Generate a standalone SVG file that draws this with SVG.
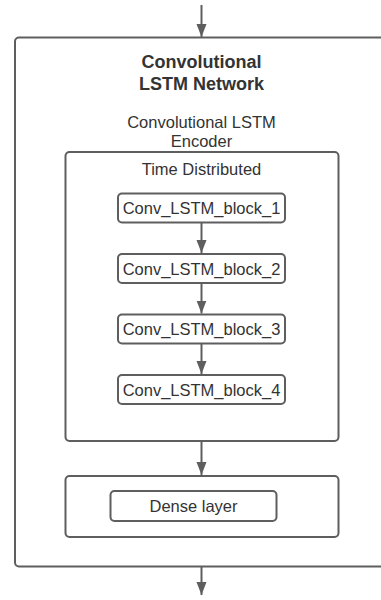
<svg xmlns="http://www.w3.org/2000/svg" width="381" height="600" viewBox="0 0 381 600">
<style>
.box{fill:#fff;stroke:#5e5e5e;stroke-width:2}
.t{font-family:"Liberation Sans",Arial,sans-serif;fill:#333;text-anchor:middle;font-size:16.5px}
.b{font-weight:bold;font-size:18px}
.c{stroke:#5e5e5e;stroke-width:2;fill:none;marker-end:url(#ah)}
</style>
<defs>
<marker id="ah" markerWidth="14" markerHeight="12" viewBox="0 0 14 12" refX="13" refY="6" orient="auto" markerUnits="userSpaceOnUse">
<path d="M0,1 L13,6 L0,11 Z" fill="#5e5e5e"/>
</marker>
</defs>
<rect width="381" height="600" fill="#fff"/>
<g id="network">
<rect class="box" x="15" y="37.5" width="374" height="529" rx="4"/>
<text class="t b" x="201.5" y="68">Convolutional</text>
<text class="t b" x="201.5" y="90">LSTM Network</text>
</g>
<g id="encoder">
<text class="t" x="201.5" y="128">Convolutional LSTM</text>
<text class="t" x="201.5" y="147">Encoder</text>
<rect class="box" x="65.5" y="152" width="273" height="289" rx="4"/>
<text class="t" x="201.5" y="175">Time Distributed</text>
</g>
<g id="block1">
<rect class="box" x="118" y="193.5" width="167" height="29" rx="4"/>
<text class="t" x="201.5" y="214">Conv_LSTM_block_1</text>
</g>
<g id="block2">
<rect class="box" x="118" y="254" width="167" height="29" rx="4"/>
<text class="t" x="201.5" y="274.5">Conv_LSTM_block_2</text>
</g>
<g id="block3">
<rect class="box" x="118" y="314.5" width="167" height="29" rx="4"/>
<text class="t" x="201.5" y="335">Conv_LSTM_block_3</text>
</g>
<g id="block4">
<rect class="box" x="118" y="375" width="167" height="29" rx="4"/>
<text class="t" x="201.5" y="395.5">Conv_LSTM_block_4</text>
</g>
<g id="dense">
<rect class="box" x="65.5" y="476" width="273" height="61" rx="4"/>
<rect class="box" x="110.5" y="491" width="166" height="30" rx="4"/>
<text class="t" x="193.5" y="512">Dense layer</text>
</g>
<g id="connectors">
<path class="c" d="M201.5,5 V37"/>
<path class="c" d="M201.5,223 V253"/>
<path class="c" d="M201.5,283.5 V313.5"/>
<path class="c" d="M201.5,344 V374"/>
<path class="c" d="M201.5,441 V475"/>
<path class="c" d="M201.5,567 V595"/>
</g>
</svg>
